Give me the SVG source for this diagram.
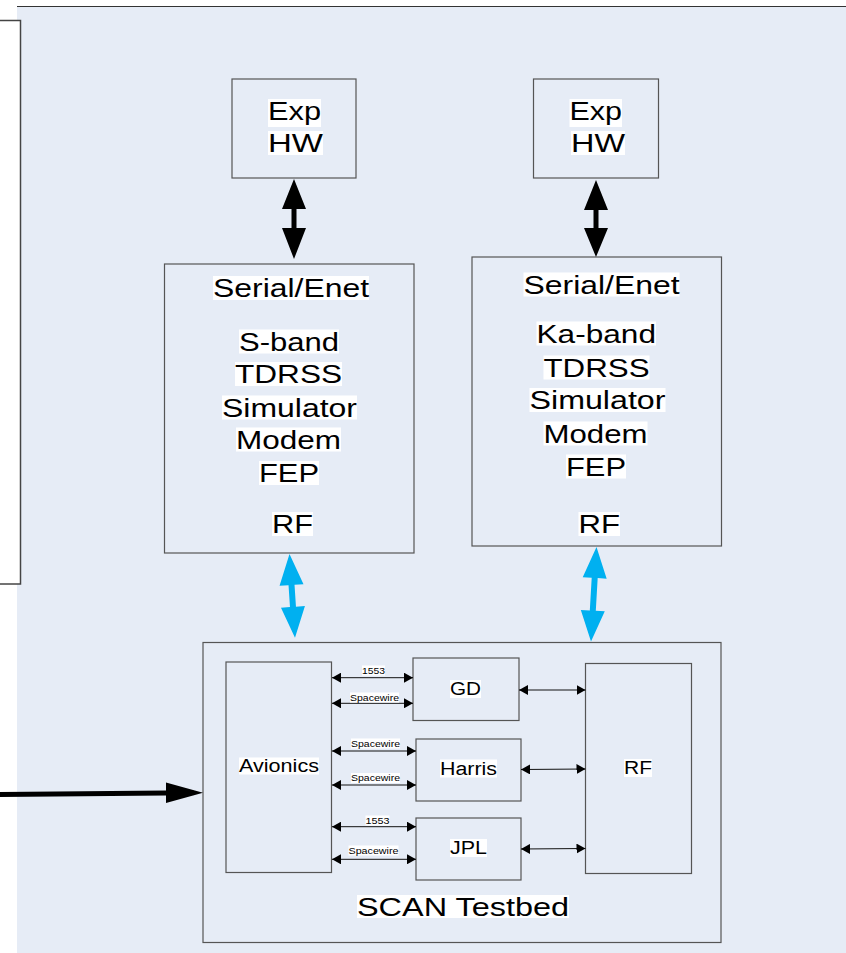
<svg xmlns="http://www.w3.org/2000/svg" width="846" height="953" viewBox="0 0 846 953">
<defs>
<style>
.box{fill:none;stroke:#555;stroke-width:1.2}
.hl{fill:#fff}
.t{font-family:"Liberation Sans",Arial,sans-serif;fill:#000}
.big{font-size:25px}
.mid{font-size:18px}
.sm{font-size:9px}
.lk{stroke:#111;stroke-width:1;fill:none;marker-start:url(#ah);marker-end:url(#ah)}
</style>
<marker id="ah" markerUnits="userSpaceOnUse" markerWidth="9" markerHeight="10" refX="9" refY="5" orient="auto-start-reverse" viewBox="0 0 9 10">
<path d="M0,0 L9,5 L0,10 z" fill="#000"/>
</marker>
</defs>
<rect x="0" y="0" width="846" height="953" fill="#fff"/>
<rect x="17" y="6" width="829" height="947" fill="#E6ECF6"/>
<line x1="17" y1="6.5" x2="846" y2="6.5" stroke="#333" stroke-width="1.2"/>
<g id="left-panel">
<rect x="-5" y="20.5" width="25.5" height="563.5" fill="#fff" stroke="#444" stroke-width="1.5"/>
</g>
<g id="exp-hw-1">
<rect class="box" x="232" y="79" width="124" height="99"/>
<rect class="hl" x="268" y="99" width="53" height="28"/>
<text class="t big" x="268" y="120" textLength="53" lengthAdjust="spacingAndGlyphs">Exp</text>
<rect class="hl" x="268" y="131" width="55" height="24"/>
<text class="t big" x="268" y="152" textLength="55" lengthAdjust="spacingAndGlyphs">HW</text>
</g>
<g id="exp-hw-2">
<rect class="box" x="533.5" y="79" width="125" height="99"/>
<rect class="hl" x="569.5" y="99" width="52.5" height="28"/>
<text class="t big" x="569.5" y="120" textLength="52.5" lengthAdjust="spacingAndGlyphs">Exp</text>
<rect class="hl" x="571" y="131" width="54" height="24"/>
<text class="t big" x="571" y="152" textLength="54" lengthAdjust="spacingAndGlyphs">HW</text>
</g>
<g id="sband-modem">
<rect class="box" x="164.5" y="264" width="249.5" height="289"/>
<rect class="hl" x="213" y="276" width="156" height="24"/>
<text class="t big" x="213" y="297" textLength="156" lengthAdjust="spacingAndGlyphs">Serial/Enet</text>
<rect class="hl" x="239" y="329.5" width="100" height="24"/>
<text class="t big" x="239" y="350.5" textLength="100" lengthAdjust="spacingAndGlyphs">S-band</text>
<rect class="hl" x="235" y="362" width="107" height="24"/>
<text class="t big" x="235" y="383" textLength="107" lengthAdjust="spacingAndGlyphs">TDRSS</text>
<rect class="hl" x="222" y="395.5" width="135" height="24"/>
<text class="t big" x="222" y="416.5" textLength="135" lengthAdjust="spacingAndGlyphs">Simulator</text>
<rect class="hl" x="236" y="427.5" width="105" height="24"/>
<text class="t big" x="236" y="448.5" textLength="105" lengthAdjust="spacingAndGlyphs">Modem</text>
<rect class="hl" x="259" y="461" width="60" height="24"/>
<text class="t big" x="259" y="482" textLength="60" lengthAdjust="spacingAndGlyphs">FEP</text>
<rect class="hl" x="272" y="512" width="41" height="24"/>
<text class="t big" x="272" y="533" textLength="41" lengthAdjust="spacingAndGlyphs">RF</text>
</g>
<g id="kaband-modem">
<rect class="box" x="472" y="257" width="249.5" height="289"/>
<rect class="hl" x="523.5" y="272.5" width="156" height="24"/>
<text class="t big" x="523.5" y="293.5" textLength="156" lengthAdjust="spacingAndGlyphs">Serial/Enet</text>
<rect class="hl" x="536.5" y="321.5" width="119.5" height="24"/>
<text class="t big" x="536.5" y="342.5" textLength="119.5" lengthAdjust="spacingAndGlyphs">Ka-band</text>
<rect class="hl" x="543.5" y="355.5" width="106" height="24"/>
<text class="t big" x="543.5" y="376.5" textLength="106" lengthAdjust="spacingAndGlyphs">TDRSS</text>
<rect class="hl" x="529.5" y="388" width="136" height="24"/>
<text class="t big" x="529.5" y="409" textLength="136" lengthAdjust="spacingAndGlyphs">Simulator</text>
<rect class="hl" x="543.5" y="421.5" width="104" height="24"/>
<text class="t big" x="543.5" y="442.5" textLength="104" lengthAdjust="spacingAndGlyphs">Modem</text>
<rect class="hl" x="566" y="454.5" width="60" height="24"/>
<text class="t big" x="566" y="475.5" textLength="60" lengthAdjust="spacingAndGlyphs">FEP</text>
<rect class="hl" x="578.5" y="512" width="41.5" height="24"/>
<text class="t big" x="578.5" y="533" textLength="41.5" lengthAdjust="spacingAndGlyphs">RF</text>
</g>
<g id="scan-testbed">
<rect class="box" x="203" y="642.5" width="518" height="300"/>
<rect class="hl" x="357" y="895" width="212" height="23"/>
<text class="t" font-size="26" x="357" y="916" textLength="212" lengthAdjust="spacingAndGlyphs">SCAN Testbed</text>
</g>
<g id="avionics">
<rect class="box" x="226" y="662" width="105.5" height="210.5"/>
<rect class="hl" x="239" y="757.5" width="80" height="17"/>
<text class="t mid" x="239" y="771.5" textLength="80" lengthAdjust="spacingAndGlyphs">Avionics</text>
</g>
<g id="gd">
<rect class="box" x="413" y="658" width="106" height="62.5"/>
<rect class="hl" x="450" y="680" width="31" height="18"/>
<text class="t mid" x="450" y="695" textLength="31" lengthAdjust="spacingAndGlyphs">GD</text>
</g>
<g id="harris">
<rect class="box" x="416" y="739" width="105" height="62"/>
<rect class="hl" x="440" y="759.5" width="57" height="18"/>
<text class="t mid" x="440" y="774.5" textLength="57" lengthAdjust="spacingAndGlyphs">Harris</text>
</g>
<g id="jpl">
<rect class="box" x="416" y="818" width="105" height="62"/>
<rect class="hl" x="450" y="839" width="37" height="18"/>
<text class="t mid" x="450" y="854" textLength="37" lengthAdjust="spacingAndGlyphs">JPL</text>
</g>
<g id="rf-testbed">
<rect class="box" x="585.5" y="663.5" width="106" height="210"/>
<rect class="hl" x="624" y="759" width="28" height="18"/>
<text class="t mid" x="624" y="774" textLength="28" lengthAdjust="spacingAndGlyphs">RF</text>
</g>
<g id="connectors">
<polygon fill="#000" points="294,179 306,209 296.5,209 296.5,228 306,228 294,259 282,228 291.5,228 291.5,209 282,209"/>
<polygon fill="#000" points="596,180 608,210 598.5,210 598.5,228 608,228 596,257 584,228 593.5,228 593.5,210 584,210"/>
<polygon fill="#00B0F0" transform="translate(289.5,554) rotate(-3.75)" points="0,0 12,31 3,31 3,53 12,53 0,84 -12,53 -3,53 -3,31 -12,31"/>
<polygon fill="#00B0F0" transform="translate(596.5,547) rotate(3.33)" points="0,0 12,31 3,31 3,63.7 12,63.7 0,94.7 -12,63.7 -3,63.7 -3,31 -12,31"/>
<polygon fill="#000" points="0,792 166,790.5 166,782.5 203,792.7 166,803 166,795.5 0,797"/>
<line class="lk" x1="332" y1="677.7" x2="413" y2="677.7"/>
<line class="lk" x1="332" y1="703.3" x2="413" y2="703.3"/>
<line class="lk" x1="332" y1="751" x2="416" y2="751"/>
<line class="lk" x1="332" y1="785" x2="416" y2="785"/>
<line class="lk" x1="332" y1="826.7" x2="416" y2="826.7"/>
<line class="lk" x1="332" y1="859.3" x2="416" y2="859.3"/>
<line class="lk" x1="519" y1="690" x2="585.5" y2="690"/>
<line class="lk" x1="521" y1="769.5" x2="585.5" y2="769"/>
<line class="lk" x1="521" y1="849" x2="585.5" y2="848.5"/>
<rect class="hl" x="362" y="665.5" width="23" height="10"/>
<text class="t sm" x="362" y="673.5" textLength="23" lengthAdjust="spacingAndGlyphs">1553</text>
<rect class="hl" x="350" y="692.5" width="49" height="10"/>
<text class="t sm" x="350" y="700.5" textLength="49" lengthAdjust="spacingAndGlyphs">Spacewire</text>
<rect class="hl" x="351" y="738.5" width="49" height="10"/>
<text class="t sm" x="351" y="746.5" textLength="49" lengthAdjust="spacingAndGlyphs">Spacewire</text>
<rect class="hl" x="351" y="773" width="49" height="10"/>
<text class="t sm" x="351" y="781" textLength="49" lengthAdjust="spacingAndGlyphs">Spacewire</text>
<rect class="hl" x="365.5" y="815.5" width="24" height="10"/>
<text class="t sm" x="365.5" y="823.5" textLength="24" lengthAdjust="spacingAndGlyphs">1553</text>
<rect class="hl" x="348.5" y="845.5" width="50" height="10"/>
<text class="t sm" x="348.5" y="853.5" textLength="50" lengthAdjust="spacingAndGlyphs">Spacewire</text>
</g>
</svg>
